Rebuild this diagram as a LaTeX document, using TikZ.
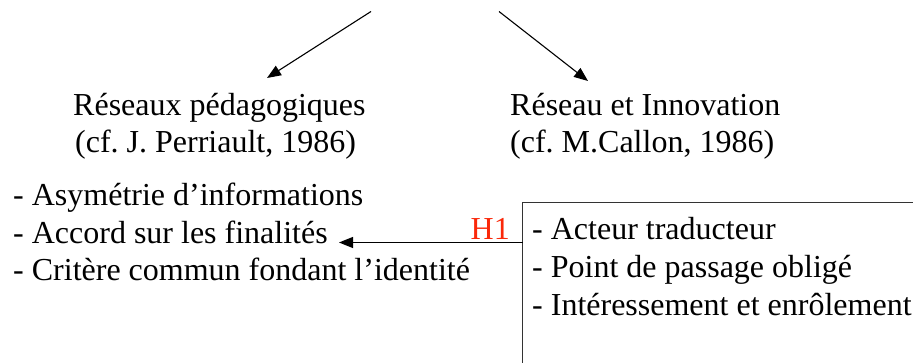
\documentclass[tikz,border=0pt]{standalone}
\usepackage{fontspec}
\setmainfont{Liberation Serif}
\usetikzlibrary{arrows.meta}
\definecolor{hred}{RGB}{250,40,10}
\frenchspacing
\tikzset{
  txt/.style={anchor=base west, inner sep=0pt, font=\fontsize{32}{38}\selectfont},
  arr/.style={line width=1.1pt, -{Triangle[length=14pt,width=11pt]}},
  boxline/.style={line width=1.2pt, draw=black!80}
}
\begin{document}
\begin{tikzpicture}[x=1pt,y=-1pt]
\useasboundingbox (0,0) rectangle (913,363);
\clip (0,0) rectangle (913,363);
% top arrows
\coordinate (s1) at (371,11.5);
\coordinate (t1) at (267,78);
\coordinate (s2) at (499,11.5);
\coordinate (t2) at (588,81);
\draw[arr] (s1) -- (t1);
\draw[arr] (s2) -- (t2);
% titles
\node[txt] (ra) at (73,116) {Réseaux pédagogiques};
\node[txt] (rb) at (75,153) {(cf. J. Perriault, 1986)};
\node[txt] (ia) at (510,116) {Réseau et Innovation};
\node[txt] (ib) at (510,153) {(cf. M.Callon, 1986)};
% left list
\node[txt] (l1) at (13,206) {- Asymétrie d’informations};
\node[txt] (l2) at (13,244) {- Accord sur les finalités};
\node[txt] (l3) at (13,281) {- Critère commun fondant l’identité};
% box
\coordinate (bx) at (522.5,202.5);
\draw[boxline] (522.5,380) -- (bx) -- (930,202.5);
\node[txt] (r1) at (532,240) {- Acteur traducteur};
\node[txt] (r2) at (532,278) {- Point de passage obligé};
\node[txt] (r3) at (532,316) {- Intéressement et enrôlement};
% H1 arrow
\coordinate (hb) at (522.5,242.5);
\coordinate (ht) at (339,242.5);
\draw[arr] (hb) -- (ht);
\node[txt, anchor=base east, text=hred] (h1) at (510,240) {H1};
\end{tikzpicture}
\end{document}
